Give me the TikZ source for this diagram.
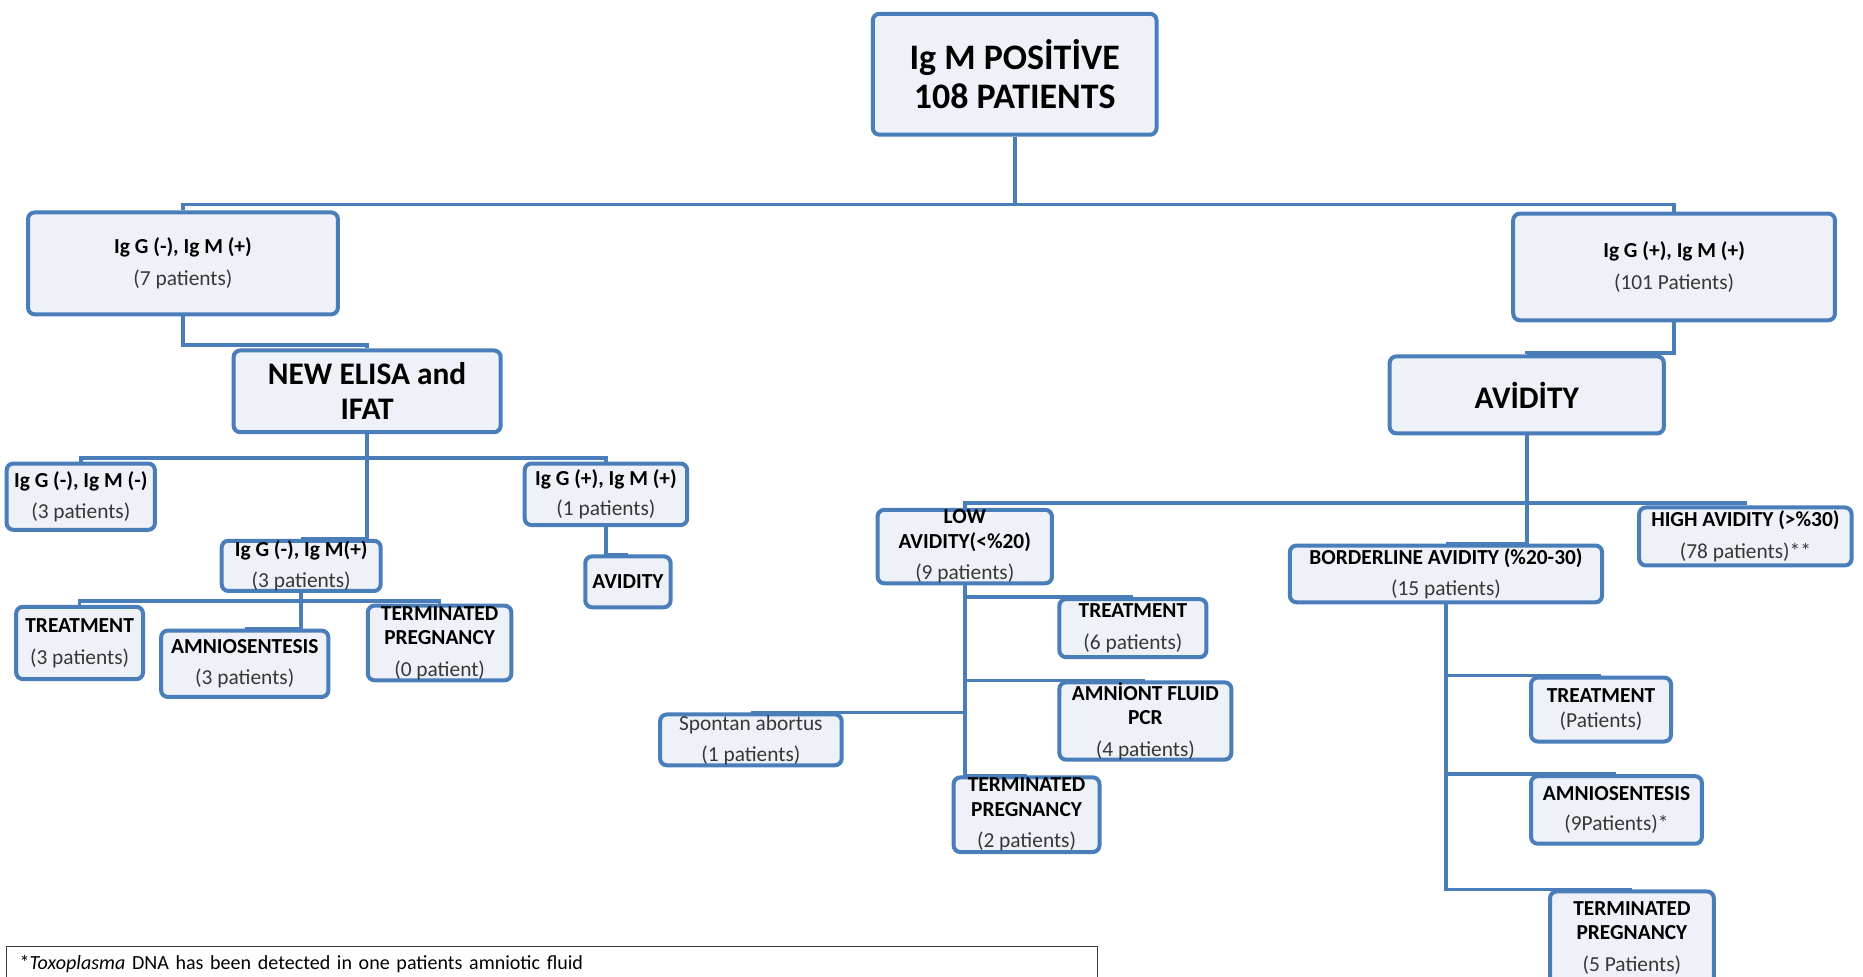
\documentclass[tikz,border=0pt]{standalone}
\usepackage{fontspec}
\setmainfont{Carlito}
\usepackage{xcolor}
\usepackage{tikz}
\usetikzlibrary{positioning}

\definecolor{boxblue}{RGB}{74,126,187}
\definecolor{boxfill}{RGB}{238,242,248}
\definecolor{patgray}{RGB}{55,55,55}
\definecolor{notegray}{RGB}{60,60,60}
\newcommand{\ptline}[1]{{\mdseries\color{patgray}#1}}

\begin{document}
\begin{tikzpicture}[font=\fontsize{12.8}{14.5}\selectfont,
    box/.style={draw=boxblue, line width=2.4pt, rounded corners=4pt, fill=boxfill, align=center, inner sep=0pt, font=\fontsize{12.8}{14.5}\selectfont\bfseries},
    sz/.style 2 args={minimum width=#1cm, minimum height=#2cm},
    big/.style={font=\fontsize{18.8}{21}\selectfont\bfseries},
    link/.style={draw=boxblue, line width=2.2pt}]
\useasboundingbox (0,0) rectangle (39.2,-20.55);

\node[box, sz={5.97}{2.545}, font=\fontsize{21.5}{23.5}\selectfont\bfseries] (root) at (21.35,-1.5625) {Ig M POSİTİVE\\108 PATIENTS};
\node[box, sz={6.52}{2.145}, below=1.55cm of root, xshift=-17.5cm] (igmpos) {Ig G (-), Ig M (+)\\[4.5pt]\ptline{(7 patients)}};
\node[box, sz={6.77}{2.245}, below=1.575cm of root, xshift=13.875cm] (iggpos) {Ig G (+), Ig M (+)\\[4.5pt]\ptline{(101 Patients)}};
\node[box, big, sz={5.62}{1.72}, below=0.675cm of igmpos, xshift=3.875cm] (elisa) {NEW ELISA and\\IFAT};
\node[box, big, sz={5.77}{1.62}, below=0.675cm of iggpos, xshift=-3.1cm] (avid) {AVİDİTY};

% left branch
\node[box, sz={3.12}{1.395}, below=0.575cm of elisa, xshift=-6.025cm] (negneg) {Ig G (-), Ig M (-)\\[4pt]\ptline{(3 patients)}};
\node[box, sz={3.42}{1.295}, below=0.575cm of elisa, xshift=5.025cm] (pospos) {Ig G (+), Ig M (+)\\[4pt]\ptline{(1 patients)}};
\node[box, sz={3.345}{1.045}, below=2.2cm of elisa, xshift=-1.3875cm] (negpos) {Ig G (-), Ig M(+)\\[4pt]\ptline{(3 patients)}};
\node[box, sz={1.795}{1.07}, below=0.575cm of pospos, xshift=0.4625cm] (avidsm) {AVIDITY};
\node[box, sz={2.67}{1.52}, below=0.25cm of negpos, xshift=-4.6625cm] (treatA) {TREATMENT\\[4.5pt]\ptline{(3 patients)}};
\node[box, sz={3.52}{1.395}, below=0.75cm of negpos, xshift=-1.1875cm] (amnioA) {AMNIOSENTESIS\\[4pt]\ptline{(3 patients)}};
\node[box, sz={3.02}{1.57}, below=0.225cm of negpos, xshift=2.9125cm] (termA) {TERMINATED\\PREGNANCY\\[4.5pt]\ptline{(0 patient)}};

% avidity branch
\node[box, sz={3.67}{1.545}, below=1.525cm of avid, xshift=-11.825cm] (low) {LOW\\AVIDITY(<\%20)\\[4.5pt]\ptline{(9 patients)}};
\node[box, sz={6.57}{1.195}, below=2.275cm of avid, xshift=-1.7cm] (border) {BORDERLINE AVIDITY (\%20-30)\\[4.5pt]\ptline{(15 patients)}};
\node[box, sz={4.47}{1.22}, below=1.475cm of avid, xshift=4.6cm] (high) {HIGH AVIDITY (>\%30)\\[4.5pt]\ptline{(78 patients)**}};
\node[box, sz={3.095}{1.22}, below=0.25cm of low, xshift=3.5375cm] (treatB) {TREATMENT\\[4.5pt]\ptline{(6 patients)}};
\node[box, sz={3.62}{1.42}, below=2.0cm of low, xshift=3.8cm] (pcr) {AMNİONT FLUID\\PCR\\[4.5pt]\ptline{(4 patients)}};
\node[box, sz={3.82}{1.07}, font=\fontsize{12.8}{14.5}\selectfont, below=2.675cm of low, xshift=-4.5cm] (abort) {\ptline{Spontan abortus}\\[4pt]\ptline{(1 patients)}};
\node[box, sz={3.07}{1.57}, below=4.0cm of low, xshift=1.3cm] (termB) {TERMINATED\\PREGNANCY\\[4.5pt]\ptline{(2 patients)}};
\node[box, sz={2.945}{1.345}, below=1.5cm of border, xshift=3.2625cm] (treatC) {TREATMENT\\\ptline{(Patients)}};
\node[box, sz={3.595}{1.42}, below=3.575cm of border, xshift=3.5875cm] (amnioC) {AMNIOSENTESIS\\[4pt]\ptline{(9Patients)*}};
\node[box, sz={3.445}{1.97}, below=6.0cm of border, xshift=3.9125cm] (termC) {TERMINATED\\PREGNANCY\\[4.5pt]\ptline{(5 Patients)}};

\node[draw=notegray, line width=0.8pt, anchor=north west, text width=22.4cm, inner xsep=0.275cm, minimum height=0.75cm, align=left, font=\fontsize{12}{13.5}\selectfont] (note) at (0.125,-19.9) {*\textit{Toxoplasma} DNA has been detected in one patients amniotic fluid};

\draw[link] (root.south) -- ++(0,-1.425) -| (igmpos.north);
\draw[link] (root.south) -- ++(0,-1.425) -| (iggpos.north);
\draw[link] (igmpos.south) -- ++(0,-0.6) -| (elisa.north);
\draw[link] (iggpos.south) -- ++(0,-0.65) -| (avid.north);
\draw[link] (elisa.south) -- ++(0,-0.5) -| (negneg.north);
\draw[link] (elisa.south) -- ++(0,-0.5) -| (pospos.north);
\draw[link] (elisa.south) |- (negpos.north);
\draw[link] (pospos.south) |- (avidsm.north);
\draw[link] (negpos.south) -- ++(0,-0.175) -| (treatA.north);
\draw[link] (negpos.south) -- ++(0,-0.175) -| (termA.north);
\draw[link] (negpos.south) |- (amnioA.north);
\draw[link] (avid.south) -- ++(0,-1.425) -| (low.north);
\draw[link] (avid.south) -- ++(0,-1.425) -| (high.north);
\draw[link] (avid.south) |- (border.north);
\draw[link] (low.south) |- (treatB.north);
\draw[link] (low.south) |- (pcr.north);
\draw[link] (low.south) |- (abort.north);
\draw[link] (low.south) |- (termB.north);
\draw[link] (border.south) |- (treatC.north);
\draw[link] (border.south) |- (amnioC.north);
\draw[link] (border.south) |- (termC.north);
\end{tikzpicture}
\end{document}
